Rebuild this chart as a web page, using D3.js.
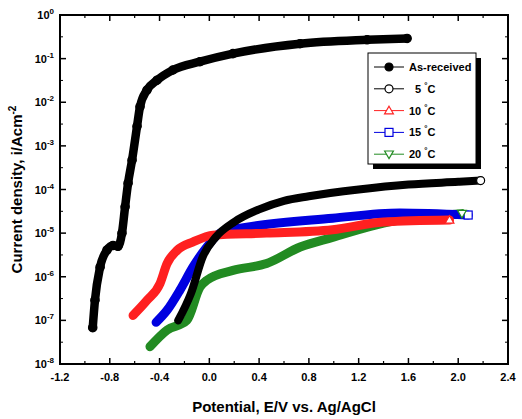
<!DOCTYPE html>
<html><head><meta charset="utf-8">
<script src="https://cdn.jsdelivr.net/npm/d3@7"></script>
<style>body{margin:0;background:#fff}text{font-family:"Liberation Sans",Arial,sans-serif;font-weight:bold}</style>
</head><body><svg id="c" width="522" height="419"></svg>
<script>
const asReceived=[[-0.937,6.8e-8],[-0.919,2.9e-7],[-0.878,1.66e-6],[-0.822,4.1e-6],[-0.774,5.2e-6],[-0.734,5.0e-6],[-0.702,1e-5],[-0.677,4e-5],[-0.653,1.4e-4],[-0.621,4.7e-4],[-0.581,2.8e-3],[-0.557,7.9e-3],[-0.501,1.9e-2],[-0.42,3.2e-2],[-0.292,5.5e-2],[-0.075,8.5e-2],[0.19,0.13],[0.729,0.22],[1.268,0.27],[1.589,0.29]];
const c5=[[-0.25,1e-7],[-0.15,4e-7],[-0.05,3e-6],[0.05,8e-6],[0.2,1.8e-5],[0.4,3.5e-5],[0.6,5.5e-5],[0.8,7e-5],[1.2,1e-4],[1.6,1.3e-4],[2.0,1.5e-4],[2.18,1.6e-4]];
const c10=[[-0.613,1.3e-7],[-0.5,2.9e-7],[-0.396,7e-7],[-0.34,2e-6],[-0.26,4e-6],[-0.13,6.3e-6],[0.03,9e-6],[0.46,1e-5],[0.99,1.2e-5],[1.4,1.8e-5],[1.93,2e-5]];
const c15=[[-0.428,9e-8],[-0.34,1.7e-7],[-0.235,5e-7],[-0.13,1.7e-6],[-0.02,4.8e-6],[0.086,1e-5],[0.33,1.4e-5],[0.99,2.2e-5],[1.53,2.9e-5],[2.08,2.6e-5]];
const c20=[[-0.477,2.5e-8],[-0.34,6e-8],[-0.18,1e-7],[-0.075,5.8e-7],[-0.02,8.3e-7],[0.19,1.4e-6],[0.46,2e-6],[0.73,4.8e-6],[0.99,8e-6],[1.4,1.7e-5],[2.03,2.8e-5]];
const xTicks=[-1.2,-0.8,-0.4,0.0,0.4,0.8,1.2,1.6,2.0,2.4];
const yExps=[0,-1,-2,-3,-4,-5,-6,-7,-8];
const series=[
 {name:"As-received",data:asReceived,color:"#000",sym:"fcircle",w:8.5},
 {name:" 5",data:c5,color:"#000",sym:"circle",w:8},
 {name:"10",data:c10,color:"#ff2020",sym:"tri",w:9},
 {name:"15",data:c15,color:"#0000e0",sym:"square",w:9},
 {name:"20",data:c20,color:"#228b22",sym:"dtri",w:9}];
const L=60,R=508,T=15,B=364;
const svg=d3.select("#c");
const x=d3.scaleLinear().domain([-1.2,2.4]).range([L,R]);
const y=d3.scaleLog().domain([1e-8,1]).range([B,T]);
function sym(g,s,px,py,col,r){
  if(s==="fcircle"||s==="circle") g.append("circle").attr("cx",px).attr("cy",py).attr("r",r).attr("fill",s==="fcircle"?col:"#fff").attr("stroke",col).attr("stroke-width",1.2);
  else if(s==="square") g.append("rect").attr("x",px-r).attr("y",py-r).attr("width",2*r).attr("height",2*r).attr("fill","#fff").attr("stroke",col).attr("stroke-width",1.2);
  else { const d=s==="tri"?1:-1; g.append("path").attr("d",`M${px},${py-d*r*1.1}L${px+r*1.1},${py+d*r*0.8}L${px-r*1.1},${py+d*r*0.8}Z`).attr("fill","#fff").attr("stroke",col).attr("stroke-width",1.2);}
}
const line=d3.line().x(d=>x(d[0])).y(d=>y(d[1])).curve(d3.curveMonotoneX);
const plot=svg.append("g");
series.slice().reverse().forEach(s=>{
  plot.append("path").attr("d",line(s.data)).attr("fill","none").attr("stroke",s.color).attr("stroke-width",s.w).attr("stroke-linejoin","round").attr("stroke-linecap","round");
});
series.forEach(s=>{ if(s.sym==="fcircle") s.data.forEach(d=>sym(plot,s.sym,x(d[0]),y(d[1]),s.color,4.2)); });
series.slice(1).forEach(s=>{const d=s.data[s.data.length-1];sym(plot,s.sym,x(d[0]),y(d[1]),s.color,4);});
svg.append("rect").attr("x",L).attr("y",T).attr("width",R-L).attr("height",B-T).attr("fill","none").attr("stroke","#000").attr("stroke-width",2);
const ax=svg.append("g");
xTicks.forEach((v,i)=>{
  ax.append("line").attr("x1",x(v)).attr("x2",x(v)).attr("y1",B).attr("y2",B-6).attr("stroke","#000").attr("stroke-width",1.5);
  ax.append("line").attr("x1",x(v)).attr("x2",x(v)).attr("y1",T).attr("y2",T+6).attr("stroke","#000").attr("stroke-width",1.5);
  if(i<xTicks.length-1){const m=v+0.2;
   ax.append("line").attr("x1",x(m)).attr("x2",x(m)).attr("y1",B).attr("y2",B-3).attr("stroke","#000").attr("stroke-width",1.2);
   ax.append("line").attr("x1",x(m)).attr("x2",x(m)).attr("y1",T).attr("y2",T+3).attr("stroke","#000").attr("stroke-width",1.2);}
  ax.append("text").attr("x",x(v)).attr("y",B+17).attr("text-anchor","middle").attr("font-size",11).text(v.toFixed(1));
});
yExps.forEach(e=>{
  const py=y(Math.pow(10,e));
  ax.append("line").attr("x1",L).attr("x2",L+6).attr("y1",py).attr("y2",py).attr("stroke","#000").attr("stroke-width",1.5);
  ax.append("line").attr("x1",R).attr("x2",R-6).attr("y1",py).attr("y2",py).attr("stroke","#000").attr("stroke-width",1.5);
  const t=ax.append("text").attr("x",L-6).attr("y",py+4).attr("text-anchor","end").attr("font-size",11);
  t.append("tspan").text("10");
  t.append("tspan").attr("dy",-5).attr("font-size",8).text(e);
  if(e>-8){const mp=y(Math.pow(10,e-0.5));
   ax.append("line").attr("x1",L).attr("x2",L+3).attr("y1",mp).attr("y2",mp).attr("stroke","#000");
   ax.append("line").attr("x1",R).attr("x2",R-3).attr("y1",mp).attr("y2",mp).attr("stroke","#000");}
});
svg.append("text").attr("x",(L+R)/2).attr("y",412).attr("text-anchor","middle").attr("font-size",15).text("Potential, E/V vs. Ag/AgCl");
const yt=svg.append("text").attr("transform",`translate(22,${(T+B)/2}) rotate(-90)`).attr("text-anchor","middle").attr("font-size",15);
yt.append("tspan").text("Current density, i/Acm");
yt.append("tspan").attr("dy",-6).attr("font-size",10).text("-2");
const lg=svg.append("g");
lg.append("rect").attr("x",373).attr("y",58).attr("width",108).attr("height",111).attr("fill","#000");
lg.append("rect").attr("x",368).attr("y",53).attr("width",108).attr("height",111).attr("fill","#fff").attr("stroke","#000").attr("stroke-width",1);
series.forEach((s,i)=>{
  const cy=67+i*21.8;
  lg.append("line").attr("x1",374).attr("x2",404).attr("y1",cy).attr("y2",cy).attr("stroke",s.color).attr("stroke-width",1);
  sym(lg,s.sym,389,cy,s.color,4);
  const t=lg.append("text").attr("x",409).attr("y",cy+4).attr("font-size",11).attr("xml:space","preserve");
  if(i===0) t.text(s.name);
  else {t.append("tspan").text(" ".repeat(i===1?2:0)+s.name.trim()+" ");t.append("tspan").attr("dy",-5).attr("font-size",8).text("°");t.append("tspan").attr("dy",5).text("C");}
});
</script></body></html>
